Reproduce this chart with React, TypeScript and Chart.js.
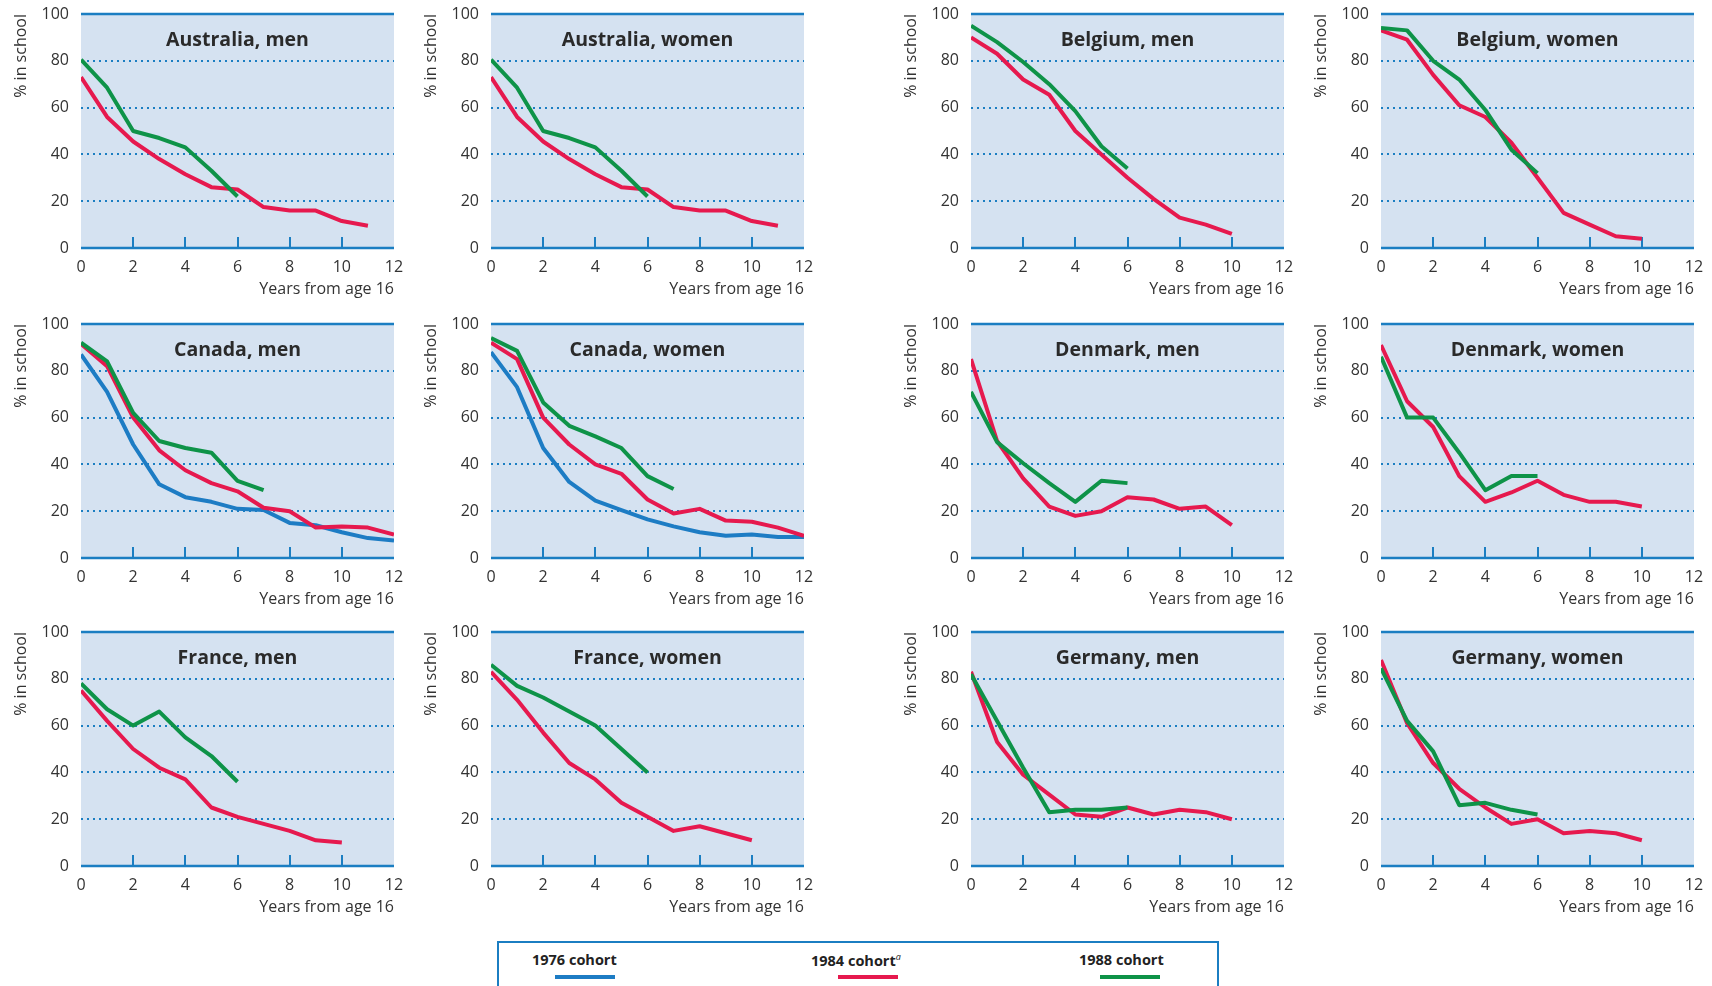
import React, { useEffect, useRef } from "react";
import { Chart, registerables } from "chart.js";

Chart.register(...registerables);

// ---------------- data ----------------
const xTickValues = [0, 2, 4, 6, 8, 10, 12];
const yTickValues = [0, 20, 40, 60, 80, 100];
const innerTickValues = [2, 4, 6, 8, 10];
const dottedGridValues = [20, 40, 60, 80];

const cohortLabels = ["1976 cohort", "1984 cohort", "1988 cohort"];

const australiaMen1984 = [73, 56, 45.5, 38, 31.5, 26, 25, 17.5, 16, 16, 11.5, 9.5];
const australiaMen1988 = [80.5, 68.5, 50, 47, 43, 33, 22];
const australiaWomen1984 = [73, 56, 45.5, 38, 31.5, 26, 25, 17.5, 16, 16, 11.5, 9.5];
const australiaWomen1988 = [80.5, 68.5, 50, 47, 43, 33, 22];

const belgiumMen1984 = [90, 83, 72, 65.5, 50, 40, 30, 21, 13, 10, 6];
const belgiumMen1988 = [95, 88, 79.5, 70, 58.5, 43.5, 34];
const belgiumWomen1984 = [93, 89, 74, 61, 56, 45, 30, 15, 10, 5, 4];
const belgiumWomen1988 = [94, 93, 80, 72, 59, 42, 32];

const canadaMen1976 = [87, 71, 48.5, 31.5, 26, 24, 21, 20.5, 15, 14, 11, 8.5, 7.5];
const canadaMen1984 = [91.5, 82, 60, 46, 37.5, 32, 28.5, 21.5, 20, 13, 13.5, 13, 10];
const canadaMen1988 = [92, 84, 62, 50, 47, 45, 33, 29];
const canadaWomen1976 = [88, 73, 47, 32.5, 24.5, 20.5, 16.5, 13.5, 11, 9.5, 10, 9, 9];
const canadaWomen1984 = [92, 85, 60, 48.5, 40, 36, 25, 19, 21, 16, 15.5, 13, 9.5];
const canadaWomen1988 = [94, 88.5, 66.5, 56.5, 52, 47, 35, 29.5];

const denmarkMen1984 = [85, 50, 34, 22, 18, 20, 26, 25, 21, 22, 14];
const denmarkMen1988 = [71, 49.5, 40.5, 32, 24, 33, 32];
const denmarkWomen1984 = [91, 67, 56, 35, 24, 28, 33, 27, 24, 24, 22];
const denmarkWomen1988 = [86, 60, 60, 45, 29, 35, 35];

const franceMen1984 = [75, 62, 50, 42, 37, 25, 21, 18, 15, 11, 10];
const franceMen1988 = [78, 67, 60, 66, 55, 47, 36];
const franceWomen1984 = [83, 71, 57, 44, 37, 27, 21, 15, 17, 14, 11];
const franceWomen1988 = [86, 77, 72, 66, 60, 50, 40];

const germanyMen1984 = [83, 53, 39, 30.5, 22, 21, 25, 22, 24, 23, 20];
const germanyMen1988 = [82, 62, 42, 23, 24, 24, 25];
const germanyWomen1984 = [88, 61, 44, 33, 25, 18, 20, 14, 15, 14, 11];
const germanyWomen1988 = [84.5, 62, 49, 26, 27, 24, 22];

const panelTitles = [
  "Australia, men", "Australia, women", "Belgium, men", "Belgium, women",
  "Canada, men", "Canada, women", "Denmark, men", "Denmark, women",
  "France, men", "France, women", "Germany, men", "Germany, women",
];

const panelSeries: (number[] | null)[][] = [
  [null, australiaMen1984, australiaMen1988],
  [null, australiaWomen1984, australiaWomen1988],
  [null, belgiumMen1984, belgiumMen1988],
  [null, belgiumWomen1984, belgiumWomen1988],
  [canadaMen1976, canadaMen1984, canadaMen1988],
  [canadaWomen1976, canadaWomen1984, canadaWomen1988],
  [null, denmarkMen1984, denmarkMen1988],
  [null, denmarkWomen1984, denmarkWomen1988],
  [null, franceMen1984, franceMen1988],
  [null, franceWomen1984, franceWomen1988],
  [null, germanyMen1984, germanyMen1988],
  [null, germanyWomen1984, germanyWomen1988],
];

// ---------------- styles ----------------
const cohortColors = ["#1d7cc4", "#e6194e", "#0e9348"];
const axisBlue = "#1b7ec2";
const plotBg = "#d5e2f1";
const textColor = "#333333";
const fontFamily = "'Open Sans', 'Noto Sans', sans-serif";

const colLefts = [0, 410, 890, 1300];
const rowTops = [0, 310, 618];
const CANVAS_W = 406;
const CANVAS_H = 300;

const panelPlugin = {
  id: "panelDecor",
  beforeDatasetsDraw(chart: any) {
    const { ctx, chartArea } = chart;
    const { left, right, top, bottom } = chartArea;
    const y = chart.scales.y;
    const x = chart.scales.x;
    ctx.save();
    ctx.fillStyle = plotBg;
    ctx.fillRect(left, top, right - left, bottom - top);
    ctx.strokeStyle = axisBlue;
    ctx.lineWidth = 2;
    ctx.setLineDash([2, 4]);
    dottedGridValues.forEach((v) => {
      const py = Math.round(y.getPixelForValue(v));
      ctx.beginPath();
      ctx.moveTo(left, py);
      ctx.lineTo(right, py);
      ctx.stroke();
    });
    ctx.setLineDash([]);
    ctx.lineWidth = 2.5;
    [0, 100].forEach((v) => {
      const py = y.getPixelForValue(v);
      ctx.beginPath();
      ctx.moveTo(left, py);
      ctx.lineTo(right, py);
      ctx.stroke();
    });
    ctx.lineWidth = 2;
    innerTickValues.forEach((v) => {
      const px = Math.round(x.getPixelForValue(v));
      const py = y.getPixelForValue(0);
      ctx.beginPath();
      ctx.moveTo(px, py);
      ctx.lineTo(px, py - 11);
      ctx.stroke();
    });
    ctx.restore();
  },
  afterDatasetsDraw(chart: any) {
    const { ctx, chartArea } = chart;
    const title = chart.options.plugins.panelDecor.title;
    ctx.save();
    ctx.font = `bold 19.5px ${fontFamily}`;
    ctx.fillStyle = "#2a2a2a";
    ctx.textAlign = "center";
    ctx.textBaseline = "middle";
    ctx.fillText(title, (chartArea.left + chartArea.right) / 2, chartArea.top + 26);
    ctx.restore();
  },
};

function Panel({ index }: { index: number }) {
  const ref = useRef<HTMLCanvasElement>(null);
  useEffect(() => {
    const series = panelSeries[index];
    const datasets: any[] = [];
    [2, 1, 0].forEach((ci) => {
      const vals = series[ci];
      if (!vals) return;
      datasets.push({
        label: cohortLabels[ci],
        data: vals.map((v, i) => ({ x: i, y: v })),
        borderColor: cohortColors[ci],
        borderWidth: 4,
        pointRadius: 0,
        tension: 0,
        fill: false,
        borderJoinStyle: "round",
      });
    });
    const tickFont = { family: fontFamily, size: 16 };
    const chart = new Chart(ref.current as HTMLCanvasElement, {
      type: "line",
      data: { datasets },
      plugins: [panelPlugin],
      options: {
        animation: false,
        responsive: false,
        maintainAspectRatio: false,
        devicePixelRatio: 1,
        layout: { padding: { left: 0, top: 14, right: 12, bottom: 0 } },
        plugins: {
          legend: { display: false },
          tooltip: { enabled: false },
          panelDecor: { title: panelTitles[index] },
        } as any,
        scales: {
          x: {
            type: "linear",
            min: 0,
            max: 12,
            afterBuildTicks: (s: any) => {
              s.ticks = xTickValues.map((v) => ({ value: v }));
            },
            afterFit: (s: any) => {
              s.height = CANVAS_H - 14 - 234;
            },
            grid: { display: false },
            border: { display: false },
            ticks: { font: tickFont, color: textColor, padding: 2, maxRotation: 0, autoSkip: false },
            title: {
              display: true,
              text: "Years from age 16",
              align: "end",
              color: textColor,
              font: { family: fontFamily, size: 16 },
              padding: { top: 0, bottom: 1 },
            },
          },
          y: {
            type: "linear",
            min: 0,
            max: 100,
            afterBuildTicks: (s: any) => {
              s.ticks = yTickValues.map((v) => ({ value: v }));
            },
            afterFit: (s: any) => {
              s.width = 81;
            },
            grid: { display: false },
            border: { display: false },
            ticks: { font: tickFont, color: textColor, padding: 4 },
            title: {
              display: true,
              text: "% in school",
              align: "end",
              color: textColor,
              font: { family: fontFamily, size: 16 },
              padding: { top: 12, bottom: 0 },
            },
          },
        },
      } as any,
    });
    return () => chart.destroy();
  }, [index]);
  const col = index % 4;
  const row = Math.floor(index / 4);
  return (
    <canvas
      ref={ref}
      width={CANVAS_W}
      height={CANVAS_H}
      style={{
        position: "absolute",
        left: colLefts[col],
        top: rowTops[row],
        width: CANVAS_W,
        height: CANVAS_H,
      }}
    />
  );
}

function Legend() {
  const textStyle: React.CSSProperties = {
    position: "absolute",
    top: 7,
    fontFamily,
    fontWeight: 700,
    fontSize: 14.5,
    color: "#222",
    whiteSpace: "nowrap",
  };
  const lineStyle = (color: string, left: number): React.CSSProperties => ({
    position: "absolute",
    left,
    top: 32,
    width: 60,
    height: 4,
    background: color,
  });
  return (
    <div
      style={{
        position: "absolute",
        left: 497,
        top: 941,
        width: 722,
        height: 60,
        borderTop: `2px solid ${axisBlue}`,
        borderLeft: `2px solid ${axisBlue}`,
        borderRight: `2px solid ${axisBlue}`,
        boxSizing: "border-box",
      }}
    >
      <div style={{ ...textStyle, left: 33 }}>{cohortLabels[0]}</div>
      <div style={lineStyle(cohortColors[0], 56)} />
      <div style={{ ...textStyle, left: 312 }}>
        {cohortLabels[1]}
        <sup style={{ fontSize: 9, fontWeight: 400, fontStyle: "italic" }}>a</sup>
      </div>
      <div style={lineStyle(cohortColors[1], 339)} />
      <div style={{ ...textStyle, left: 580 }}>{cohortLabels[2]}</div>
      <div style={lineStyle(cohortColors[2], 601)} />
    </div>
  );
}

export default function App() {
  return (
    <div
      style={{
        position: "absolute",
        left: 0,
        top: 0,
        width: 1712,
        height: 986,
        overflow: "hidden",
        background: "#ffffff",
      }}
    >
      {panelTitles.map((_, i) => (
        <Panel key={i} index={i} />
      ))}
      <Legend />
    </div>
  );
}
